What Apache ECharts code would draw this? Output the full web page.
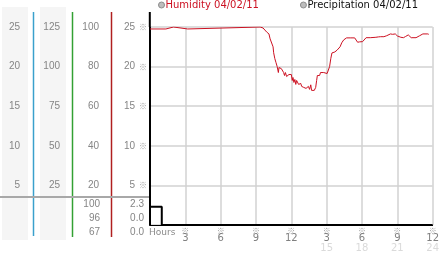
<!DOCTYPE html>
<html><head><meta charset="utf-8">
<script src="https://cdn.jsdelivr.net/npm/echarts@6/dist/echarts.min.js"></script>
<style>html,body{margin:0;padding:0;background:#fff}#c{width:442px;height:253px}</style>
</head><body><div id="c"></div>
<script>
// ---- data ----
const hours = [0,1.35,1.45,2.0,2.1,3.2,3.3,9.35,9.6,9.9,10.1,10.2,10.35,10.45,10.5,10.6,10.7,10.8,10.9,10.95,11.05,11.15,11.25,11.35,11.42,11.5,11.6,11.7,11.8,11.9,12.0,12.08,12.14,12.22,12.3,12.38,12.45,12.55,12.62,12.7,12.8,12.88,12.97,13.05,13.15,13.25,13.35,13.45,13.55,13.65,13.72,13.8,13.88,13.95,14.07,14.15,14.21,14.3,14.4,14.48,14.6,14.75,14.9,15.04,15.15,15.25,15.35,15.45,15.55,15.7,15.8,15.9,16.0,16.14,16.28,16.45,16.69,17.0,17.38,17.5,17.63,17.8,17.93,18.05,18.2,18.35,18.7,19.18,19.4,19.59,19.86,20.1,20.42,20.6,20.83,21.0,21.1,21.3,21.52,21.7,21.93,22.05,22.18,22.59,22.75,22.9,23.05,23.17,23.59,23.67];
const humidity = [99,99,100,100,99,99,100,100,99.5,97.5,96.5,94,93,90,87,84,82,80,77,79.5,80,79,80,77,75.5,77,75,74.5,76,75.5,76,73,74.5,72,73.5,71,73,72.5,71,72,71.5,70,71,69.5,70.5,69,68.3,70,68.5,70.8,68,67.3,69,68,69.5,73,75.5,76,75.5,77,76.5,77,76.9,76.5,77.5,80,84,86.9,86,87.4,87,88.4,88.8,90,92,93.5,94.5,94.5,94.5,93.5,92.3,92.5,92.1,92.6,93,94.6,94.6,94.8,95,95.1,95.1,95.6,96.5,96.3,96.5,95.5,94.6,94.8,94.6,95.2,96,95.2,94.6,94.6,95.2,95.6,96,96.5,96.5,96.3];
const precipHours = [0, 1, 24];
const precipValues = [2.3, 0, 0];

const xTickValues = [3,6,9,12,15,18,21,24];
const xTickMain = ['3','6','9','12','3','6','9','12'];
const xTickSub = ['','','','','15','18','21','24'];
const mainLabels = ['5','10','15','20','25'];
const panel1Labels = ['5','10','15','20','25'];
const panel2Labels = ['25','50','75','100','125'];
const panel3Labels = ['20','40','60','80','100'];
const humStats = ['100','96','67'];
const precipStats = ['2.3','0.0','0.0'];
const legendNames = ['Humidity 04/02/11', 'Precipitation 04/02/11'];

// ---- chart ----
const NUM_FONT = 'Liberation Sans';
const LBL = '#858585';
const GRID = '#d2d2d2';
const chart = echarts.init(document.getElementById('c'), null, {renderer:'canvas'});

function idxLabel(arr, step){ return v => (v === 0 ? '' : (arr[Math.round(v/step) - 1] || '')); }
function sideAxis(max, interval, arr, offset){
  return {type:'value', position:'left', min:0, max:max, interval:interval, offset:offset,
    axisLine:{show:false}, axisTick:{show:false}, splitLine:{show:false},
    axisLabel:{margin:0, color:LBL, fontFamily:NUM_FONT, fontSize:10, formatter: idxLabel(arr, interval)}};
}

const graphics = [
  {type:'rect', shape:{x:2,y:7,width:26,height:233}, style:{fill:'#f5f5f5'}, z:-10},
  {type:'rect', shape:{x:40,y:7,width:26,height:233}, style:{fill:'#f5f5f5'}, z:-10},
  {type:'line', shape:{x1:33.5,y1:12,x2:33.5,y2:236}, style:{stroke:'#3aa0cc', lineWidth:1.5}},
  {type:'line', shape:{x1:72.5,y1:12,x2:72.5,y2:237}, style:{stroke:'#33a033', lineWidth:1.5}},
  {type:'line', shape:{x1:111.5,y1:12,x2:111.5,y2:237}, style:{stroke:'#b02020', lineWidth:1.5}},
  {type:'line', shape:{x1:0,y1:197,x2:149,y2:197}, style:{stroke:'#a8a8a8', lineWidth:2}},
  {type:'line', shape:{x1:149.8,y1:12,x2:149.8,y2:27}, style:{stroke:'#000', lineWidth:2}}
];
const statY = [204, 218, 232];
humStats.forEach((t,i) => graphics.push({type:'text', x:100, y:statY[i], style:{text:t, fill:LBL, font:'10px "'+NUM_FONT+'"', textAlign:'right', textVerticalAlign:'middle'}}));
precipStats.forEach((t,i) => graphics.push({type:'text', x:144, y:statY[i], style:{text:t, fill:LBL, font:'10px "'+NUM_FONT+'"', textAlign:'right', textVerticalAlign:'middle'}}));

chart.setOption({
  animation:false,
  textStyle:{fontFamily:'DejaVu Sans'},
  grid:{left:150, right:2, top:27, bottom:27},
  legend:{left:158, top:0, padding:0, itemWidth:6, itemHeight:6, itemGap:41, icon:'circle', selectedMode:false,
    textStyle:{fontFamily:'DejaVu Sans', fontSize:10, padding:[0,0,0,-4]},
    data:[
      {name:legendNames[0], itemStyle:{color:'#bdbdbd', borderColor:'#8c8c8c', borderWidth:1}, textStyle:{color:'#cc1122'}},
      {name:legendNames[1], itemStyle:{color:'#bdbdbd', borderColor:'#8c8c8c', borderWidth:1}, textStyle:{color:'#111'}}
    ]},
  xAxis:{type:'value', min:0, max:24, interval:3,
    name:'Hours', nameLocation:'start', nameGap:0,
    nameTextStyle:{align:'left', verticalAlign:'top', color:'#8a8a8a', fontFamily:'DejaVu Sans', fontSize:9, padding:[3,0,0,4]},
    axisLine:{show:true, onZero:false, lineStyle:{color:'#000', width:1}},
    axisTick:{show:false},
    splitLine:{show:true, lineStyle:{color:GRID, width:1.5, type:'solid'}},
    axisLabel:{margin:2, showMaxLabel:true, hideOverlap:false, formatter: v => {
      const i = xTickValues.indexOf(v);
      if (i < 0) return '';
      return '{m|※}\n{v|' + xTickMain[i] + '}' + (xTickSub[i] ? '\n{f|' + xTickSub[i] + '}' : '');
    }, rich:{
      m:{fontSize:8, color:'#a0a0a0', lineHeight:7, fontFamily:'Noto Sans CJK JP'},
      v:{fontSize:10, color:'#808080', lineHeight:9, fontFamily:'DejaVu Sans'},
      f:{fontSize:10, color:'#dadada', lineHeight:10, fontFamily:'DejaVu Sans'}
    }}},
  yAxis:[
    {type:'value', position:'left', min:0, max:25, interval:5,
      axisLine:{show:true, onZero:false, lineStyle:{color:'#000', width:2}},
      axisTick:{show:false},
      splitLine:{show:true, lineStyle:{color:GRID, width:1.5, type:'solid'}},
      axisLabel:{margin:3, formatter: v => v === 0 ? '' : '{v|' + mainLabels[v/5 - 1] + '}{m|※}',
        rich:{v:{fontSize:10, color:LBL, fontFamily:NUM_FONT}, m:{fontSize:8, color:'#a0a0a0', padding:[0,0,0,4], fontFamily:'Noto Sans CJK JP'}}}},
    sideAxis(25, 5, panel1Labels, 130),
    sideAxis(125, 25, panel2Labels, 90),
    sideAxis(100, 20, panel3Labels, 51)
  ],
  series:[
    {name:legendNames[0], type:'line', yAxisIndex:3, showSymbol:false, symbol:'none',
      lineStyle:{color:'#cc1122', width:1}, itemStyle:{color:'#cc1122'},
      data: hours.map((h,i) => [h, humidity[i]]), z:3},
    {name:legendNames[1], type:'line', yAxisIndex:0, step:'end', showSymbol:false, symbol:'none',
      lineStyle:{color:'#000', width:2}, itemStyle:{color:'#000'},
      data: precipHours.map((h,i) => [h, precipValues[i]]), z:4}
  ],
  graphic: graphics
});
</script></body></html>
